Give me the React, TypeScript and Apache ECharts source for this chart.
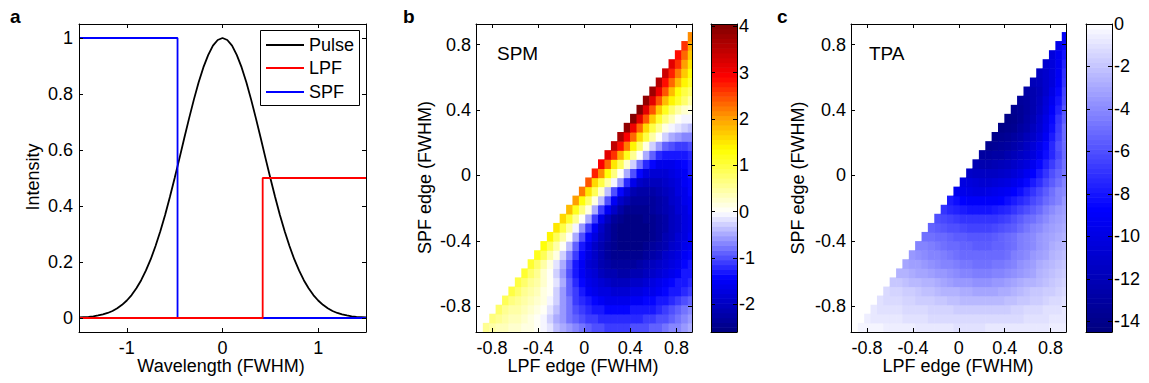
import React, { useEffect, useRef } from "react";
import * as echarts from "echarts";

const FONT = "'Liberation Sans', Arial, Helvetica, sans-serif";

// ---------- Panel a data ----------
const WAVELENGTH = [
  -1.5, -1.45, -1.4, -1.35, -1.3, -1.25, -1.2, -1.15, -1.1, -1.05, -1.0, -0.95, -0.9, -0.85, -0.8, -0.75,
  -0.7, -0.65, -0.6, -0.55, -0.5, -0.45, -0.4, -0.35, -0.3, -0.25, -0.2, -0.15, -0.1, -0.05, 0,
  0.05, 0.1, 0.15, 0.2, 0.25, 0.3, 0.35, 0.4, 0.45, 0.5, 0.55, 0.6, 0.65, 0.7, 0.75, 0.8, 0.85, 0.9,
  0.95, 1.0, 1.05, 1.1, 1.15, 1.2, 1.25, 1.3, 1.35, 1.4, 1.45, 1.5,
];
const PULSE = [
  0.002, 0.003, 0.004, 0.006, 0.009, 0.013, 0.018, 0.025, 0.035, 0.047, 0.0625, 0.082, 0.106, 0.135, 0.17, 0.21,
  0.257, 0.31, 0.368, 0.432, 0.5, 0.57, 0.642, 0.712, 0.779, 0.841, 0.895, 0.939, 0.973, 0.993, 1.0,
  0.993, 0.973, 0.939, 0.895, 0.841, 0.779, 0.712, 0.642, 0.57, 0.5, 0.432, 0.368, 0.31, 0.257, 0.21, 0.17, 0.135, 0.106,
  0.082, 0.0625, 0.047, 0.035, 0.025, 0.018, 0.013, 0.009, 0.006, 0.004, 0.003, 0.002,
];
const LPF_X = [-1.5, 0.42, 0.42, 1.5];
const LPF_Y = [0, 0, 0.5, 0.5];
const SPF_X = [-1.5, -0.47, -0.47, 1.5];
const SPF_Y = [1, 1, 0, 0];

const A_X_TICKS = [-1, 0, 1];
const A_Y_TICKS = [0, 0.2, 0.4, 0.6, 0.8, 1];

// ---------- Panels b / c grid ----------
const LPF_EDGE = [
  -0.853, -0.797, -0.742, -0.686, -0.631, -0.575, -0.519, -0.464, -0.408, -0.353, -0.297, -0.242, -0.186, -0.13, -0.075,
  -0.019, 0.036, 0.092, 0.147, 0.203, 0.259, 0.314, 0.37, 0.425, 0.481, 0.536, 0.592, 0.648, 0.703, 0.759, 0.814, 0.87, 0.926,
];
const SPF_EDGE = [
  -0.929, -0.873, -0.818, -0.762, -0.707, -0.651, -0.596, -0.54, -0.485, -0.429, -0.373, -0.318, -0.262, -0.207, -0.151,
  -0.096, -0.04, 0.015, 0.071, 0.127, 0.182, 0.238, 0.294, 0.349, 0.404, 0.46, 0.516, 0.571, 0.627, 0.683, 0.738, 0.794, 0.849,
];
const CELL = 0.0556;
const EDGE_TICKS = [-0.8, -0.4, 0, 0.4, 0.8];

// row r (SPF_EDGE[r]) starts at column r (LPF_EDGE[r])
const SPM_ROWS: number[][] = [
  [0.55, 0.45, 0.4, 0.35, 0.3, 0.25, 0.2, 0.15, 0.05, -0.05, -0.2, -0.35, -0.5, -0.6, -0.7, -0.8, -0.9, -0.95, -1.0, -1.05, -1.05, -1.05, -1.05, -1.0, -1.0, -0.95, -0.9, -0.85, -0.8, -0.7, -0.65, -0.55, -0.5],
  [0.65, 0.55, 0.45, 0.4, 0.35, 0.3, 0.2, 0.1, -0.05, -0.25, -0.45, -0.6, -0.75, -0.85, -0.95, -1.05, -1.1, -1.15, -1.2, -1.2, -1.2, -1.2, -1.2, -1.15, -1.1, -1.05, -1.0, -0.95, -0.85, -0.8, -0.7, -0.6],
  [0.75, 0.6, 0.5, 0.45, 0.35, 0.25, 0.15, 0.05, -0.15, -0.4, -0.6, -0.8, -0.95, -1.1, -1.2, -1.3, -1.35, -1.4, -1.4, -1.4, -1.4, -1.35, -1.3, -1.3, -1.25, -1.2, -1.1, -1.0, -0.9, -0.8, -0.7],
  [0.85, 0.7, 0.6, 0.5, 0.4, 0.3, 0.15, -0.05, -0.3, -0.55, -0.8, -1.05, -1.2, -1.35, -1.45, -1.55, -1.6, -1.6, -1.6, -1.6, -1.55, -1.5, -1.45, -1.4, -1.35, -1.3, -1.2, -1.1, -1.0, -0.9],
  [0.95, 0.75, 0.6, 0.5, 0.35, 0.2, 0.0, -0.25, -0.55, -0.85, -1.1, -1.3, -1.5, -1.6, -1.7, -1.75, -1.8, -1.8, -1.8, -1.75, -1.7, -1.65, -1.6, -1.5, -1.45, -1.35, -1.25, -1.15, -1.05],
  [1.0, 0.8, 0.6, 0.45, 0.25, 0.05, -0.2, -0.5, -0.85, -1.15, -1.4, -1.6, -1.75, -1.85, -1.95, -2.0, -2.0, -2.0, -1.95, -1.9, -1.85, -1.75, -1.65, -1.55, -1.45, -1.35, -1.25, -1.15],
  [1.05, 0.8, 0.55, 0.3, 0.05, -0.25, -0.6, -0.95, -1.25, -1.5, -1.7, -1.85, -2.0, -2.1, -2.15, -2.2, -2.2, -2.15, -2.1, -2.0, -1.9, -1.8, -1.7, -1.6, -1.5, -1.35, -1.25],
  [1.1, 0.8, 0.5, 0.2, -0.15, -0.5, -0.9, -1.25, -1.55, -1.8, -1.95, -2.1, -2.2, -2.3, -2.35, -2.35, -2.3, -2.25, -2.15, -2.05, -1.95, -1.85, -1.7, -1.6, -1.45, -1.35],
  [1.2, 0.85, 0.5, 0.15, -0.25, -0.7, -1.1, -1.45, -1.75, -1.95, -2.15, -2.3, -2.4, -2.45, -2.45, -2.45, -2.4, -2.3, -2.2, -2.1, -1.95, -1.85, -1.7, -1.55, -1.45],
  [1.3, 0.85, 0.45, 0.05, -0.4, -0.85, -1.25, -1.6, -1.9, -2.15, -2.3, -2.45, -2.5, -2.55, -2.55, -2.5, -2.45, -2.35, -2.2, -2.1, -1.95, -1.8, -1.65, -1.5],
  [1.4, 0.9, 0.45, 0.0, -0.5, -0.95, -1.4, -1.75, -2.05, -2.25, -2.45, -2.55, -2.6, -2.6, -2.55, -2.5, -2.4, -2.3, -2.15, -2.0, -1.85, -1.7, -1.55],
  [1.5, 0.95, 0.45, -0.05, -0.6, -1.1, -1.55, -1.9, -2.2, -2.4, -2.5, -2.6, -2.6, -2.55, -2.5, -2.4, -2.3, -2.2, -2.05, -1.9, -1.75, -1.6],
  [1.6, 1.1, 0.6, 0.1, -0.5, -1.1, -1.6, -2.0, -2.3, -2.45, -2.55, -2.55, -2.5, -2.45, -2.4, -2.3, -2.2, -2.05, -1.9, -1.75, -1.6],
  [1.8, 1.2, 0.7, 0.15, -0.45, -1.05, -1.55, -1.95, -2.25, -2.4, -2.45, -2.45, -2.45, -2.35, -2.25, -2.15, -2.0, -1.85, -1.7, -1.55],
  [2.0, 1.3, 0.75, 0.2, -0.4, -1.0, -1.5, -1.9, -2.15, -2.3, -2.35, -2.35, -2.3, -2.2, -2.1, -1.95, -1.8, -1.65, -1.5],
  [2.2, 1.5, 0.85, 0.25, -0.35, -0.95, -1.45, -1.85, -2.1, -2.2, -2.25, -2.2, -2.15, -2.05, -1.9, -1.75, -1.6, -1.45],
  [2.4, 1.6, 1.0, 0.45, -0.05, -0.6, -1.2, -1.6, -1.9, -2.0, -2.05, -2.0, -1.95, -1.85, -1.7, -1.55, -1.4],
  [2.7, 2.1, 1.3, 0.7, 0.05, -0.5, -1.0, -1.4, -1.7, -1.8, -1.85, -1.8, -1.75, -1.6, -1.5, -1.35],
  [3.0, 2.3, 1.5, 0.85, 0.3, -0.3, -0.8, -1.2, -1.45, -1.6, -1.6, -1.6, -1.5, -1.4, -1.3],
  [3.2, 2.6, 1.9, 1.2, 0.6, 0.05, -0.45, -0.85, -1.15, -1.3, -1.35, -1.3, -1.25, -1.2],
  [3.5, 2.9, 2.2, 1.4, 0.8, 0.15, -0.3, -0.6, -0.85, -1.0, -1.05, -1.05, -1.0],
  [3.7, 3.0, 2.3, 1.6, 1.0, 0.5, 0.05, -0.3, -0.5, -0.6, -0.65, -0.65],
  [3.9, 3.1, 2.3, 1.6, 1.0, 0.55, 0.15, -0.05, -0.2, -0.3, -0.35],
  [4.0, 3.2, 2.4, 1.7, 1.1, 0.7, 0.35, 0.1, -0.05, -0.1],
  [4.0, 3.2, 2.4, 1.7, 1.2, 0.8, 0.45, 0.25, 0.15],
  [3.9, 3.2, 2.4, 1.8, 1.4, 1.1, 0.75, 0.5],
  [3.8, 3.1, 2.4, 1.8, 1.3, 1.0, 0.8],
  [3.6, 2.9, 2.3, 1.8, 1.35, 1.05],
  [3.4, 2.8, 2.2, 1.7, 1.3],
  [3.2, 2.6, 2.0, 1.5],
  [2.9, 2.3, 1.7],
  [2.6, 1.9],
  [2.1],
];

const TPA_ROWS: number[][] = [
  [-0.4, -0.4, -0.45, -0.45, -0.5, -0.5, -0.55, -0.6, -0.65, -0.7, -0.75, -0.8, -0.85, -0.9, -0.9, -0.95, -0.95, -0.95, -0.95, -0.95, -0.9, -0.9, -0.9, -0.85, -0.85, -0.8, -0.8, -0.75, -0.7, -0.7, -0.65, -0.6, -0.6],
  [-0.65, -0.7, -0.75, -0.8, -0.85, -0.9, -0.95, -1.0, -1.05, -1.1, -1.15, -1.2, -1.25, -1.3, -1.3, -1.35, -1.35, -1.35, -1.35, -1.35, -1.3, -1.3, -1.25, -1.2, -1.15, -1.1, -1.05, -1.0, -0.95, -0.9, -0.8, -0.75],
  [-0.9, -0.95, -1.0, -1.05, -1.1, -1.15, -1.2, -1.3, -1.35, -1.4, -1.45, -1.5, -1.55, -1.6, -1.7, -1.75, -1.8, -1.8, -1.8, -1.75, -1.7, -1.6, -1.5, -1.4, -1.3, -1.25, -1.2, -1.1, -1.0, -0.95, -0.9],
  [-1.1, -1.15, -1.25, -1.3, -1.4, -1.5, -1.6, -1.7, -1.8, -1.9, -2.0, -2.1, -2.2, -2.3, -2.35, -2.4, -2.4, -2.4, -2.35, -2.3, -2.2, -2.1, -2.0, -1.85, -1.7, -1.6, -1.5, -1.35, -1.2, -1.1],
  [-1.3, -1.4, -1.5, -1.6, -1.8, -1.9, -2.1, -2.2, -2.4, -2.5, -2.6, -2.7, -2.8, -2.9, -3.0, -3.0, -3.0, -3.0, -2.9, -2.8, -2.6, -2.4, -2.2, -2.0, -1.9, -1.7, -1.6, -1.4, -1.3],
  [-1.9, -2.0, -2.1, -2.3, -2.4, -2.6, -2.7, -2.9, -3.1, -3.2, -3.4, -3.5, -3.6, -3.7, -3.7, -3.7, -3.6, -3.5, -3.3, -3.1, -2.9, -2.7, -2.5, -2.3, -2.1, -1.9, -1.7, -1.55],
  [-2.6, -2.7, -2.8, -3.0, -3.1, -3.3, -3.4, -3.6, -3.8, -4.0, -4.1, -4.3, -4.35, -4.4, -4.4, -4.3, -4.2, -4.0, -3.8, -3.5, -3.2, -3.0, -2.7, -2.4, -2.2, -2.0, -1.8],
  [-3.0, -3.2, -3.3, -3.5, -3.7, -3.9, -4.1, -4.3, -4.5, -4.6, -4.7, -4.8, -4.8, -4.8, -4.7, -4.6, -4.4, -4.1, -3.8, -3.5, -3.2, -2.9, -2.6, -2.4, -2.1, -2.0],
  [-3.5, -3.7, -3.9, -4.1, -4.2, -4.4, -4.6, -4.8, -5.0, -5.1, -5.2, -5.2, -5.2, -5.1, -5.0, -4.8, -4.5, -4.2, -3.9, -3.6, -3.3, -3.0, -2.7, -2.4, -2.2],
  [-4.1, -4.3, -4.5, -4.7, -4.9, -5.1, -5.2, -5.3, -5.4, -5.5, -5.5, -5.5, -5.4, -5.3, -5.1, -4.8, -4.5, -4.2, -3.9, -3.5, -3.2, -2.9, -2.7, -2.4],
  [-4.8, -4.9, -5.0, -5.2, -5.3, -5.5, -5.6, -5.7, -5.7, -5.7, -5.7, -5.6, -5.4, -5.1, -4.8, -4.5, -4.2, -3.9, -3.6, -3.3, -3.0, -2.8, -2.6],
  [-5.4, -5.6, -5.8, -6.0, -6.1, -6.3, -6.4, -6.4, -6.4, -6.4, -6.3, -6.1, -5.8, -5.5, -5.1, -4.7, -4.3, -3.9, -3.5, -3.2, -3.0, -2.8],
  [-6.1, -6.3, -6.5, -6.7, -6.9, -7.0, -7.0, -7.0, -7.0, -6.9, -6.7, -6.4, -6.0, -5.6, -5.2, -4.8, -4.4, -4.0, -3.6, -3.3, -3.0],
  [-7.0, -7.4, -7.7, -7.9, -8.0, -8.1, -8.1, -8.0, -7.9, -7.7, -7.4, -7.0, -6.5, -6.0, -5.5, -5.0, -4.5, -4.0, -3.6, -3.3],
  [-7.8, -8.3, -8.7, -8.9, -9.0, -9.0, -9.0, -8.9, -8.7, -8.3, -7.8, -7.3, -6.8, -6.3, -5.8, -5.2, -4.6, -4.1, -3.6],
  [-9.3, -9.7, -9.9, -10.0, -10.0, -9.9, -9.7, -9.4, -9.1, -8.7, -8.2, -7.6, -6.9, -6.2, -5.5, -4.9, -4.3, -3.9],
  [-10.0, -10.4, -10.6, -10.7, -10.7, -10.6, -10.4, -10.1, -9.7, -9.2, -8.6, -7.9, -7.1, -6.3, -5.5, -4.8, -4.2],
  [-11.2, -11.4, -11.5, -11.5, -11.4, -11.2, -10.9, -10.5, -10.0, -9.4, -8.7, -7.9, -7.0, -6.1, -5.3, -4.6],
  [-12.2, -12.3, -12.3, -12.2, -12.0, -11.7, -11.3, -10.8, -10.2, -9.5, -8.6, -7.7, -6.7, -5.7, -4.9],
  [-13.0, -13.0, -12.9, -12.7, -12.4, -12.0, -11.5, -10.9, -10.2, -9.3, -8.3, -7.3, -6.2, -5.1],
  [-13.6, -13.5, -13.3, -13.0, -12.6, -12.1, -11.4, -10.6, -9.6, -8.5, -7.3, -6.1, -5.0],
  [-14.0, -13.8, -13.5, -13.1, -12.6, -12.0, -11.2, -10.3, -9.2, -7.9, -6.5, -5.1],
  [-14.2, -14.0, -13.6, -13.1, -12.5, -11.7, -10.7, -9.6, -8.3, -6.7, -5.1],
  [-14.1, -13.9, -13.5, -12.9, -12.1, -11.1, -9.9, -8.5, -7.0, -5.5],
  [-13.8, -13.5, -13.0, -12.3, -11.4, -10.3, -9.0, -7.5, -5.8],
  [-13.3, -13.0, -12.4, -11.6, -10.6, -9.4, -8.0, -6.2],
  [-12.7, -12.4, -11.8, -11.0, -9.9, -8.5, -6.5],
  [-12.0, -11.7, -11.1, -10.2, -8.9, -6.8],
  [-11.4, -11.0, -10.3, -9.1, -7.1],
  [-10.8, -10.3, -9.4, -7.5],
  [-10.2, -9.5, -8.0],
  [-9.7, -8.5],
  [-9.2],
];

const SPM_RANGE: [number, number] = [-2.6, 4.05];
const TPA_RANGE: [number, number] = [-14.5, 0];
const SPM_TICKS = [-2, -1, 0, 1, 2, 3, 4];
const TPA_TICKS = [-14, -12, -10, -8, -6, -4, -2, 0];

// ---------- colour maps ----------
type Stop = [number, [number, number, number]];
const SPM_MAP: Stop[] = [
  [0, [0, 0, 0.5]],
  [0.176, [0, 0, 1]],
  [0.391, [1, 1, 1]],
  [0.592, [1, 1, 0]],
  [0.696, [1, 0.62, 0]],
  [0.83, [1, 0, 0]],
  [1, [0.5, 0, 0]],
];
const TPA_MAP: Stop[] = [
  [0, [0, 0, 0.5]],
  [0.4, [0, 0, 1]],
  [1, [1, 1, 1]],
];
const LEVELS = 64;

function mapColor(stops: Stop[], u: number): string {
  const t = Math.min(1, Math.max(0, u));
  for (let i = 1; i < stops.length; i++) {
    if (t <= stops[i][0]) {
      const [u0, c0] = stops[i - 1];
      const [u1, c1] = stops[i];
      const f = (t - u0) / (u1 - u0);
      const c = c0.map((a, k) => Math.round(255 * (a + (c1[k] - a) * f)));
      return `rgb(${c[0]},${c[1]},${c[2]})`;
    }
  }
  const c = stops[stops.length - 1][1].map((a) => Math.round(255 * a));
  return `rgb(${c[0]},${c[1]},${c[2]})`;
}
function levelColor(stops: Stop[], v: number, range: [number, number]) {
  const u = (v - range[0]) / (range[1] - range[0]);
  const idx = Math.min(LEVELS - 1, Math.max(0, Math.floor(u * LEVELS)));
  return mapColor(stops, (idx + 0.5) / LEVELS);
}

function cells(rows: number[][]) {
  const out: number[][] = [];
  rows.forEach((row, r) =>
    row.forEach((v, k) => {
      const c = r + k;
      if (c < LPF_EDGE.length) out.push([LPF_EDGE[c], SPF_EDGE[r], v]);
    })
  );
  return out;
}

const XR: [number, number] = [-0.94, 0.935];
const YR: [number, number] = [-0.957, 0.926];

function heatRender(stops: Stop[], range: [number, number]) {
  return (_p: any, api: any) => {
    const x = api.value(0) as number;
    const y = api.value(1) as number;
    const v = api.value(2) as number;
    const h = CELL / 2;
    const x0 = Math.max(XR[0], x - h);
    const x1 = Math.min(XR[1], x + h);
    const y0 = Math.max(YR[0], y - h);
    const y1 = Math.min(YR[1], y + h);
    const a = api.coord([x0, y1]);
    const b = api.coord([x1, y0]);
    return {
      type: "rect",
      shape: { x: a[0], y: a[1], width: b[0] - a[0] + 0.6, height: b[1] - a[1] + 0.6 },
      style: { fill: levelColor(stops, v, range), stroke: null },
    };
  };
}

function barData(range: [number, number]) {
  const out: number[][] = [];
  for (let i = 0; i < LEVELS; i++) {
    const lo = range[0] + ((range[1] - range[0]) * i) / LEVELS;
    const hi = range[0] + ((range[1] - range[0]) * (i + 1)) / LEVELS;
    out.push([0.5, lo, hi, i]);
  }
  return out;
}
function barRender(stops: Stop[]) {
  return (_p: any, api: any) => {
    const lo = api.value(1) as number;
    const hi = api.value(2) as number;
    const i = api.value(3) as number;
    const a = api.coord([0, hi]);
    const b = api.coord([1, lo]);
    return {
      type: "rect",
      shape: { x: a[0], y: a[1], width: b[0] - a[0], height: b[1] - a[1] + 0.6 },
      style: { fill: mapColor(stops, (i + 0.5) / LEVELS), stroke: null },
    };
  };
}

// ---------- axis helpers ----------
function axis(grid: number, min: number, max: number, ticks: number[], labels: boolean, position: string, margin = 6) {
  return {
    type: "value",
    gridIndex: grid,
    min,
    max,
    position,
    z: 10,
    axisLine: { show: true, onZero: false, lineStyle: { color: "#000", width: 1 } },
    axisTick: {
      show: ticks.length > 0,
      inside: true,
      length: 4,
      customValues: ticks,
      lineStyle: { color: "#000", width: 1 },
    },
    axisLabel: {
      show: labels,
      customValues: ticks,
      color: "#000",
      fontFamily: FONT,
      fontSize: 18,
      margin,
    },
    splitLine: { show: false },
  };
}

function txt(text: string, x: number, y: number, o: { size?: number; bold?: boolean; align?: string; rot?: number } = {}) {
  const align = o.align || "center";
  return {
    type: "text",
    x,
    y,
    rotation: o.rot || 0,
    z: 100,
    style: {
      text,
      font: `${o.bold ? "bold " : ""}${o.size || 18}px ${FONT}`,
      fill: "#000",
      align,
      verticalAlign: "middle",
      textAlign: align,
      textVerticalAlign: "middle",
    },
  };
}

export default function App() {
  const ref = useRef<HTMLDivElement>(null);
  useEffect(() => {
    document.body.style.margin = "0";
    if (!ref.current) return;
    const chart = echarts.init(ref.current, undefined, { renderer: "svg" });

    const grids = [
      { left: 79, top: 24, width: 287, height: 308 },
      { left: 476, top: 24, width: 216, height: 308 },
      { left: 711, top: 24, width: 26, height: 308 },
      { left: 851, top: 24, width: 215, height: 308 },
      { left: 1086, top: 24, width: 26, height: 308 },
    ].map((g) => ({ ...g, show: false, containLabel: false }));

    const xAxis = [
      axis(0, -1.5, 1.5, A_X_TICKS, true, "bottom", 7),
      axis(0, -1.5, 1.5, A_X_TICKS, false, "top"),
      axis(1, XR[0], XR[1], EDGE_TICKS, true, "bottom", 7),
      axis(1, XR[0], XR[1], EDGE_TICKS, false, "top"),
      axis(2, 0, 1, [], false, "bottom"),
      axis(3, XR[0], XR[1], EDGE_TICKS, true, "bottom", 7),
      axis(3, XR[0], XR[1], EDGE_TICKS, false, "top"),
      axis(4, 0, 1, [], false, "bottom"),
      axis(2, 0, 1, [], false, "top"),
      axis(4, 0, 1, [], false, "top"),
    ];
    const yAxis = [
      axis(0, -0.05, 1.05, A_Y_TICKS, true, "left", 6),
      axis(0, -0.05, 1.05, A_Y_TICKS, false, "right"),
      axis(1, YR[0], YR[1], EDGE_TICKS, true, "left", 5),
      axis(1, YR[0], YR[1], EDGE_TICKS, false, "right"),
      axis(2, SPM_RANGE[0], SPM_RANGE[1], SPM_TICKS, false, "left"),
      axis(2, SPM_RANGE[0], SPM_RANGE[1], SPM_TICKS, true, "right", 2),
      axis(3, YR[0], YR[1], EDGE_TICKS, true, "left", 5),
      axis(3, YR[0], YR[1], EDGE_TICKS, false, "right"),
      axis(4, TPA_RANGE[0], TPA_RANGE[1], TPA_TICKS, false, "left"),
      axis(4, TPA_RANGE[0], TPA_RANGE[1], TPA_TICKS, true, "right", 2),
    ];

    const lineSeries = (xs: number[], ys: number[], color: string, z: number) => ({
      type: "line",
      xAxisIndex: 0,
      yAxisIndex: 0,
      data: xs.map((x, i) => [x, ys[i]]),
      showSymbol: false,
      symbol: "none",
      silent: true,
      z,
      lineStyle: { color, width: 1.8 },
    });

    const legendY = [45, 68, 92];
    const legendItems: [string, string][] = [
      ["Pulse", "#000000"],
      ["LPF", "#ff0000"],
      ["SPF", "#0000ff"],
    ];

    const graphic: any[] = [
      txt("a", 10, 16, { size: 19, bold: true, align: "left" }),
      txt("b", 403, 16, { size: 19, bold: true, align: "left" }),
      txt("c", 777, 16, { size: 19, bold: true, align: "left" }),
      txt("Intensity", 33, 177, { rot: Math.PI / 2 }),
      txt("SPF edge (FWHM)", 425, 177.5, { rot: Math.PI / 2 }),
      txt("SPF edge (FWHM)", 798, 178, { rot: Math.PI / 2 }),
      txt("Wavelength (FWHM)", 221, 366),
      txt("LPF edge (FWHM)", 583, 366),
      txt("LPF edge (FWHM)", 958, 366),
      txt("SPM", 497, 53, { size: 19, align: "left" }),
      txt("TPA", 869, 53, { size: 19, align: "left" }),
      {
        type: "rect",
        z: 90,
        shape: { x: 260.5, y: 30.5, width: 99, height: 75 },
        style: { fill: "#ffffff", stroke: "#000000", lineWidth: 1 },
      },
    ];
    legendItems.forEach(([name, color], i) => {
      graphic.push({
        type: "line",
        z: 95,
        shape: { x1: 266, y1: legendY[i], x2: 304, y2: legendY[i] },
        style: { stroke: color, lineWidth: 1.8 },
      });
      graphic.push(txt(name, 309, legendY[i], { align: "left" }));
    });

    chart.setOption({
      animation: false,
      backgroundColor: "#ffffff",
      textStyle: { fontFamily: FONT },
      grid: grids,
      xAxis,
      yAxis,
      series: [
        lineSeries(WAVELENGTH, PULSE, "#000000", 3),
        lineSeries(SPF_X, SPF_Y, "#0000ff", 4),
        lineSeries(LPF_X, LPF_Y, "#ff0000", 5),
        {
          type: "custom",
          xAxisIndex: 2,
          yAxisIndex: 2,
          renderItem: heatRender(SPM_MAP, SPM_RANGE),
          data: cells(SPM_ROWS),
          encode: { x: 0, y: 1 },
          silent: true,
        },
        {
          type: "custom",
          xAxisIndex: 4,
          yAxisIndex: 4,
          renderItem: barRender(SPM_MAP),
          data: barData(SPM_RANGE),
          encode: { x: 0, y: 1 },
          silent: true,
        },
        {
          type: "custom",
          xAxisIndex: 5,
          yAxisIndex: 6,
          renderItem: heatRender(TPA_MAP, TPA_RANGE),
          data: cells(TPA_ROWS),
          encode: { x: 0, y: 1 },
          silent: true,
        },
        {
          type: "custom",
          xAxisIndex: 7,
          yAxisIndex: 8,
          renderItem: barRender(TPA_MAP),
          data: barData(TPA_RANGE),
          encode: { x: 0, y: 1 },
          silent: true,
        },
      ],
      graphic,
    });
    return () => chart.dispose();
  }, []);
  return <div ref={ref} style={{ width: 1149, height: 383 }} />;
}
